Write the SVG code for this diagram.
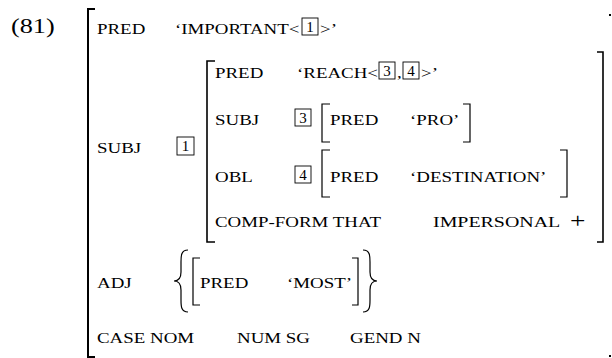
<svg xmlns="http://www.w3.org/2000/svg" width="612" height="358" viewBox="0 0 612 358">
<style>
text{font-family:"Liberation Serif","Times New Roman",serif;font-size:15px;fill:#000}
.n{font-size:21px}
.d{font-size:15px;text-anchor:middle}
.br{fill:none;stroke:#000;stroke-width:1.6}
.bo{fill:none;stroke:#000;stroke-width:2}
.bs{fill:none;stroke:#000;stroke-width:1.2}
.box{fill:none;stroke:#000;stroke-width:0.9}
</style>
<rect width="612" height="358" fill="#fff"/>
<text class="n" transform="translate(11 33) scale(1.25 1)">(81)</text>
<g id="outer">
<path class="bo" d="M95,9 H88 V357 H95"/>
<rect x="609" y="14" width="2" height="2" fill="#000"/>
<rect x="609" y="355" width="2" height="2" fill="#000"/>
<text transform="translate(97 34) scale(1.26 1)">PRED</text>
<text transform="translate(175 34) scale(1.26 1)">‘IMPORTANT&lt;</text>
<rect class="box" x="302" y="18" width="16" height="17"/>
<text class="d" x="310" y="32">1</text>
<text transform="translate(320 34) scale(1.26 1)">&gt;’</text>
<text transform="translate(97 153) scale(1.26 1)">SUBJ</text>
<rect class="box" x="177" y="137" width="17" height="18"/>
<text class="d" x="185.5" y="151">1</text>
<text transform="translate(97 288) scale(1.26 1)">ADJ</text>
<text transform="translate(97 343) scale(1.26 1)">CASE NOM</text>
<text transform="translate(237 343) scale(1.26 1)">NUM SG</text>
<text transform="translate(350 343) scale(1.26 1)">GEND N</text>
</g>
<g id="subj">
<path class="br" d="M215,61 H207 V242 H215"/>
<path class="br" d="M597,52 H603 V242 H597"/>
<text transform="translate(215 78) scale(1.26 1)">PRED</text>
<text transform="translate(297 78) scale(1.26 1)">‘REACH&lt;</text>
<rect class="box" x="379" y="62" width="16" height="17"/>
<text class="d" x="387" y="76">3</text>
<text transform="translate(397 78) scale(1.26 1)">,</text>
<rect class="box" x="403" y="62" width="16" height="17"/>
<text class="d" x="411" y="76">4</text>
<text transform="translate(421 78) scale(1.26 1)">&gt;’</text>
<text transform="translate(215 125) scale(1.26 1)">SUBJ</text>
<rect class="box" x="295" y="109" width="16" height="17"/>
<text class="d" x="303" y="123">3</text>
<text transform="translate(215 182) scale(1.26 1)">OBL</text>
<rect class="box" x="295" y="166" width="16" height="17"/>
<text class="d" x="303" y="180">4</text>
<text transform="translate(215 227) scale(1.26 1)">COMP-FORM THAT</text>
<text transform="translate(433 227) scale(1.26 1)" textLength="101" lengthAdjust="spacingAndGlyphs">IMPERSONAL</text>
<text transform="translate(570 228) scale(1.3 1)" style="font-size:21px">+</text>
</g>
<g id="pro">
<path class="bs" d="M330,104 H322 V142 H330"/>
<path class="bs" d="M463,104 H470 V142 H463"/>
<text transform="translate(330 125) scale(1.26 1)">PRED</text>
<text transform="translate(410 125) scale(1.26 1)">‘PRO’</text>
</g>
<g id="destination">
<path class="bs" d="M330,150 H322 V197 H330"/>
<path class="bs" d="M560,150 H567 V197 H560"/>
<text transform="translate(330 182) scale(1.26 1)">PRED</text>
<text transform="translate(410 182) scale(1.26 1)">‘DESTINATION’</text>
</g>
<g id="adj">
<path class="bs" d="M188,250 C181,250 181,256 181,262 L181,272 C181,278 179,281 174,281 C179,281 181,284 181,290 L181,300 C181,306 181,312 188,312"/>
<path class="bs" d="M200,258 H193 V305 H200"/>
<text transform="translate(200 288) scale(1.26 1)">PRED</text>
<text transform="translate(287 288) scale(1.26 1)">‘MOST’</text>
<path class="bs" d="M352,258 H358 V305 H352"/>
<path class="bs" d="M363,250 C370,250 370,256 370,262 L370,272 C370,278 372,281 377,281 C372,281 370,284 370,290 L370,300 C370,306 370,312 363,312"/>
</g>
</svg>
